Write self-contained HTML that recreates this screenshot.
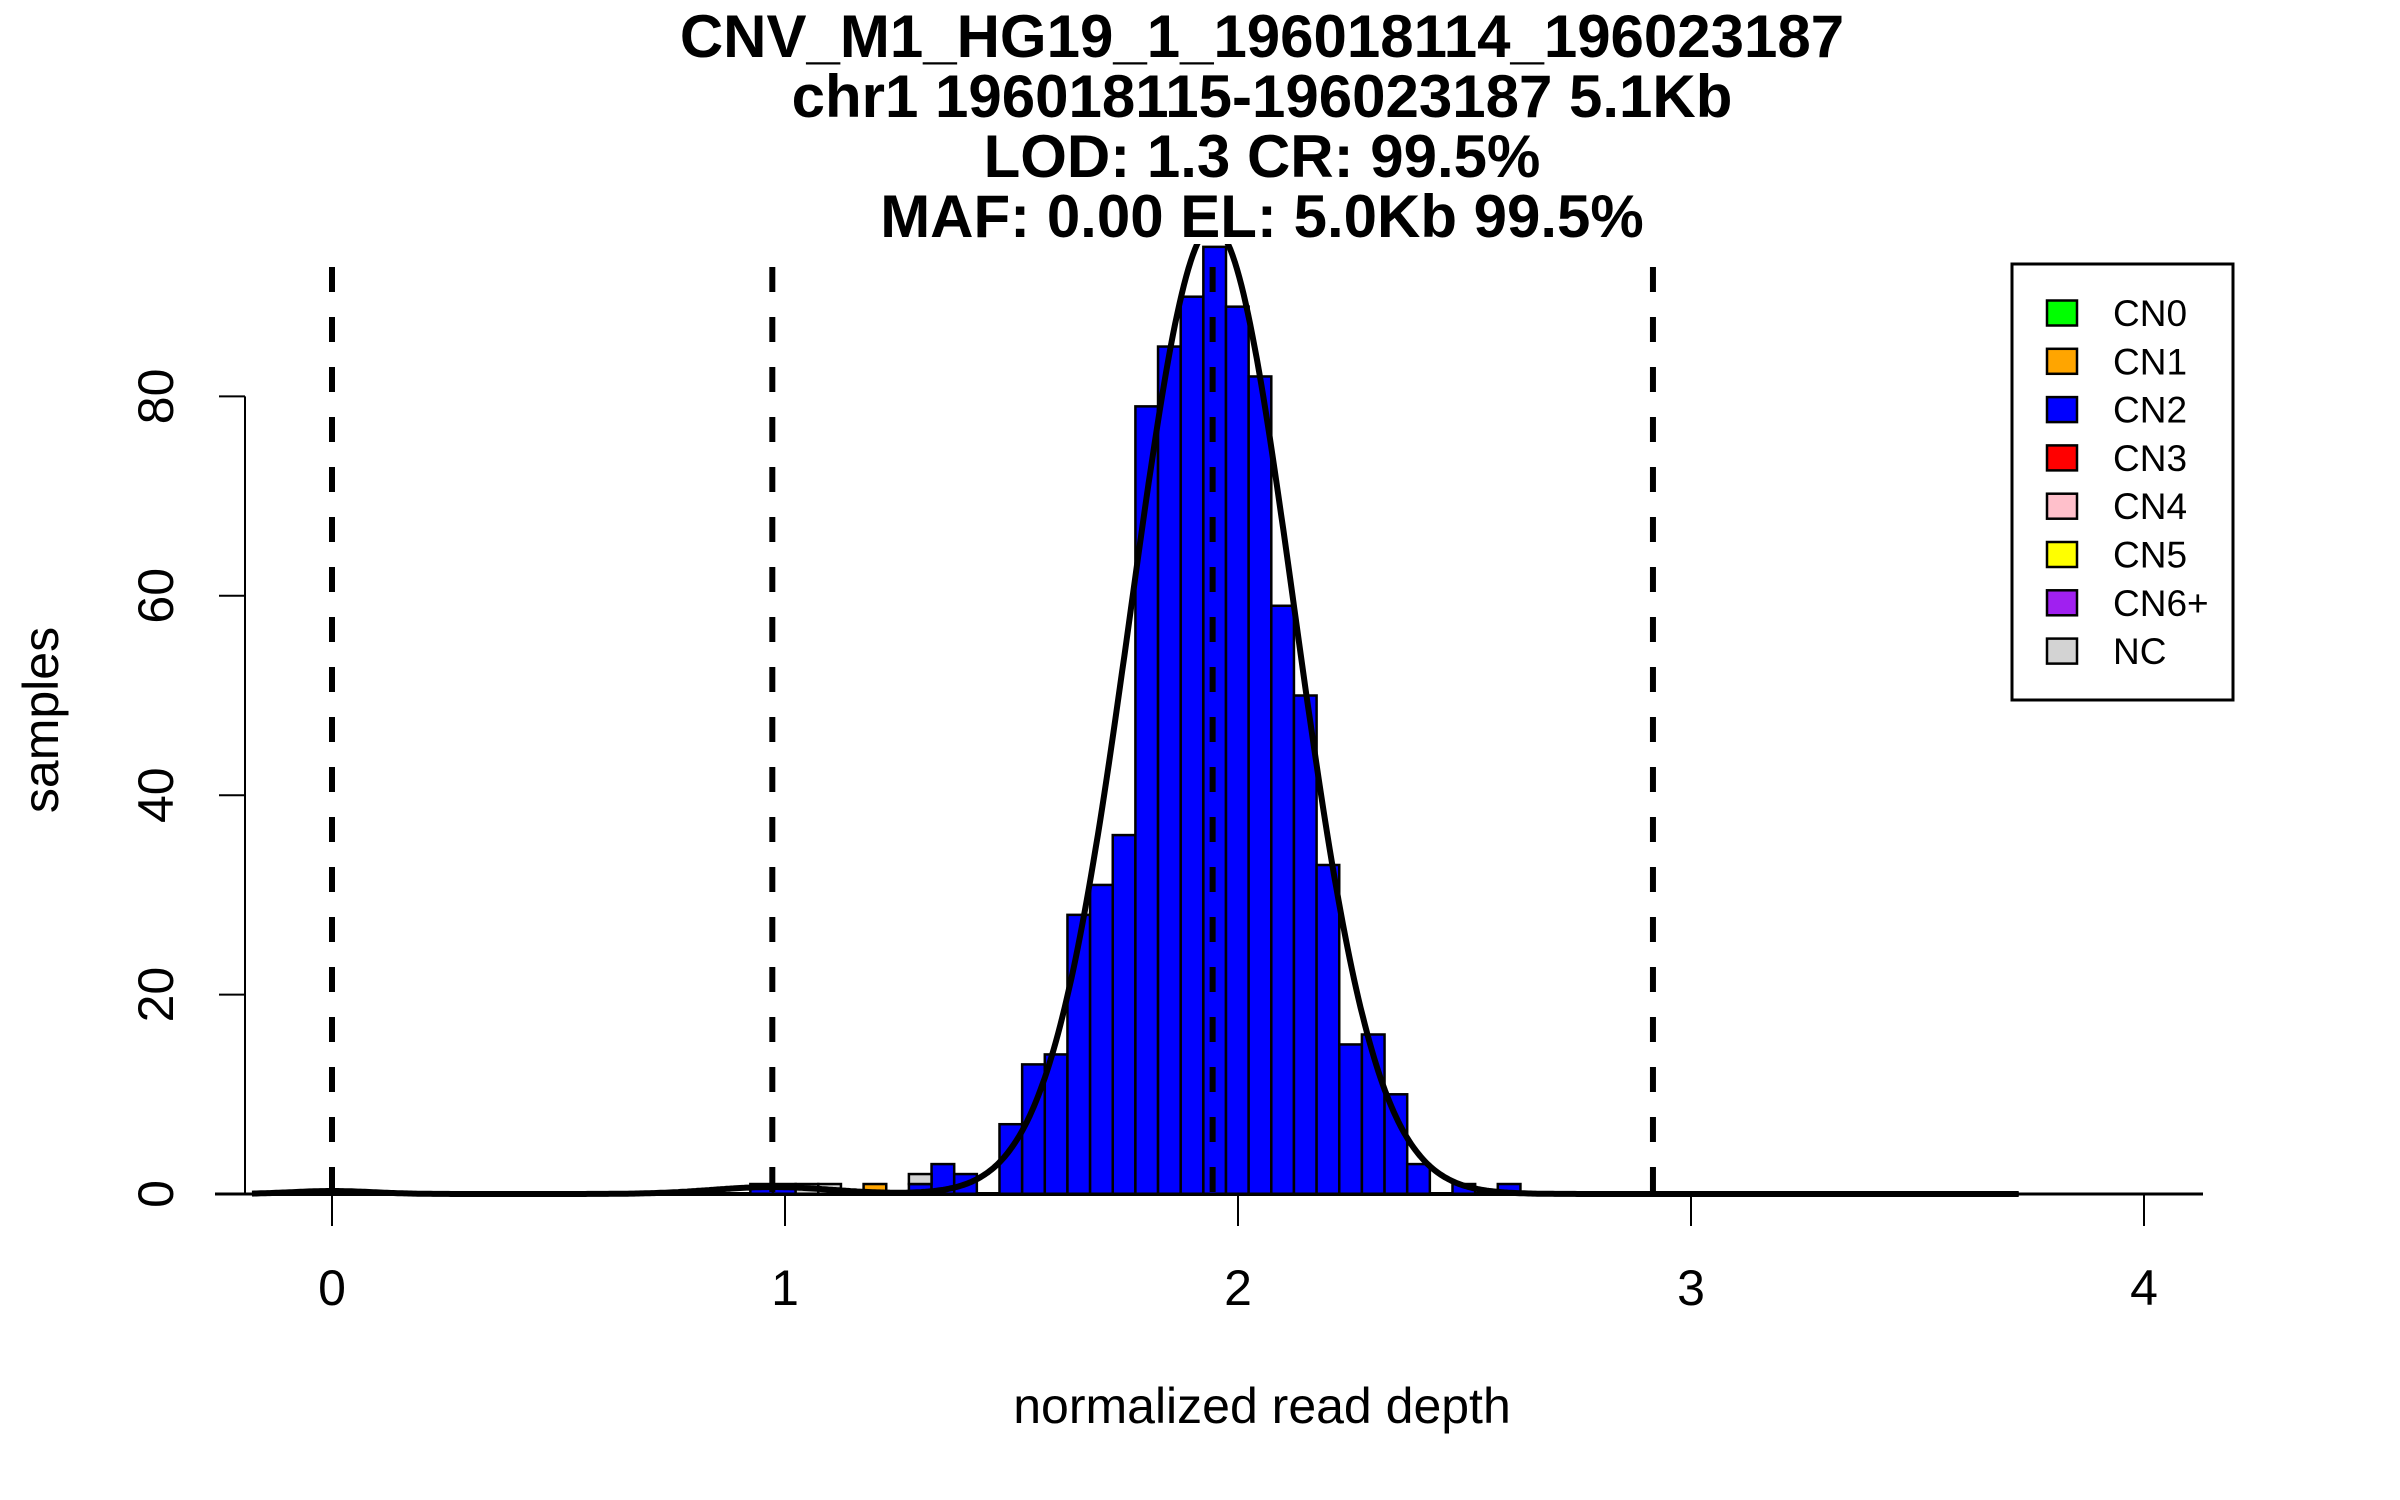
<!DOCTYPE html>
<html><head><meta charset="utf-8"><style>
html,body{margin:0;padding:0;background:#fff;}
svg{display:block;font-family:"Liberation Sans",sans-serif;}
</style></head><body>
<svg id="chart" width="2400" height="1500" viewBox="0 0 2400 1500" xmlns="http://www.w3.org/2000/svg">
<g font-weight="bold" font-size="60" text-anchor="middle">
<text x="1262" y="57">CNV_M1_HG19_1_196018114_196023187</text>
<text x="1262" y="117">chr1 196018115-196023187 5.1Kb</text>
<text x="1262" y="177">LOD: 1.3 CR: 99.5%</text>
<text x="1262" y="237">MAF: 0.00 EL: 5.0Kb 99.5%</text>
</g>
<defs><clipPath id="plotclip"><rect x="200" y="244" width="2050" height="1000"/></clipPath></defs>
<g id="bars"></g>
<g id="guides"></g>
<g id="curve" clip-path="url(#plotclip)"></g>
<g id="axes"></g>
<text x="1262" y="1423" font-size="50" text-anchor="middle">normalized read depth</text>
<text x="58" y="720" font-size="50" text-anchor="middle" transform="rotate(-90 58 720)">samples</text>
<g id="legend">
<rect x="2012" y="264" width="221" height="436" fill="#fff" stroke="#000" stroke-width="3"/>
</g>
</svg>
<script>
const binStart = -0.1765;
const binWidth = 0.05;
const binCount = 78;
const cn2Edges = [0.9235,0.9735,1.2735,1.3235,1.3735,1.4735,1.5235,1.5735,1.6235,1.6735,1.7235,1.7735,1.8235,1.8735,1.9235,1.9735,2.0235,2.0735,2.1235,2.1735,2.2235,2.2735,2.3235,2.3735,2.4735,2.5735];
const cn2Counts = [1,1,1,3,2,7,13,14,28,31,36,79,85,90,95,89,82,59,50,33,15,16,10,3,1,1];
const cn1Edges = [1.1735];
const cn1Counts = [1];
const ncEdges = [1.0235,1.0735,1.2735];
const ncCounts = [1,1,1];
const guideValues = [0,0.972,1.944,2.916];
const xTicks = [0,1,2,3,4];
const yTicks = [0,20,40,60,80];
const mixMeans = [0,0.972,1.944];
const mixSds = [0.09,0.13,0.18];
const mixPeaks = [0.3,0.7,97];
const legendLabels = ["CN0","CN1","CN2","CN3","CN4","CN5","CN6+","NC"];
const legendColors = ["#00ff00","#ffa500","#0000ff","#ff0000","#ffc0cb","#ffff00","#a020f0","#d3d3d3"];

const NS = "http://www.w3.org/2000/svg";
const X = v => 332 + (v) * 453;
const Y = c => 1194 - c * 9.97;
function mk(tag, attrs, parent){const e=document.createElementNS(NS,tag);for(const k in attrs)e.setAttribute(k,attrs[k]);parent.appendChild(e);return e;}

const bars = document.getElementById('bars');
const zl = mk('line',{x1:X(binStart),x2:X(binStart+binCount*binWidth),y1:Y(0),y2:Y(0),stroke:'#000','stroke-width':4},bars);


const stackBase = {};
function drawSeries(edges, counts, color, name){
  edges.forEach((e,i)=>{
    const base = stackBase[e] || 0;
    const r = mk('rect',{x:X(e),y:Y(base+counts[i]),width:X(e+binWidth)-X(e),height:Y(base)-Y(base+counts[i]),fill:color,stroke:'#000','stroke-width':2.5},bars);
    
    
    stackBase[e] = base+counts[i];
  });
}
drawSeries(cn2Edges,cn2Counts,'#0000ff','cn2');
drawSeries(cn1Edges,cn1Counts,'#ffa500','cn1');
drawSeries(ncEdges,ncCounts,'#d3d3d3','nc');

const guides = document.getElementById('guides');
guideValues.forEach(v=>{
  const l = mk('line',{x1:X(v),x2:X(v),y1:267,y2:Y(0),stroke:'#000','stroke-width':6,'stroke-dasharray':'25 25'},guides);
  
  
});

const curve = document.getElementById('curve');
let d='';
for(let i=0;i<=800;i++){
  const x = binStart + (binCount*binWidth)*i/800;
  let y=0;
  for(let k=0;k<mixMeans.length;k++){y+=mixPeaks[k]*Math.exp(-Math.pow(x-mixMeans[k],2)/(2*mixSds[k]*mixSds[k]));}
  d += (i?'L':'M')+X(x).toFixed(1)+','+Y(y).toFixed(1);
}
const p = mk('path',{d:d,fill:'none',stroke:'#000','stroke-width':6,'stroke-linejoin':'round'},curve);



const axes = document.getElementById('axes');
const xa = mk('line',{x1:215,x2:2203,y1:1194,y2:1194,stroke:'#000','stroke-width':3},axes);


xTicks.forEach(t=>{
  const tk = mk('line',{x1:X(t),x2:X(t),y1:1194,y2:1226,stroke:'#000','stroke-width':2},axes);
  
  
  const tx = mk('text',{x:X(t),y:1305,'font-size':50,'text-anchor':'middle'},axes);
  tx.textContent = t;
  
  
});
const ya = mk('line',{x1:245,x2:245,y1:Y(80),y2:Y(0),stroke:'#000','stroke-width':2},axes);


yTicks.forEach(t=>{
  const tk = mk('line',{x1:219,x2:245,y1:Y(t),y2:Y(t),stroke:'#000','stroke-width':2},axes);
  
  
  const tx = mk('text',{x:173,y:Y(t),'font-size':50,'text-anchor':'middle',transform:`rotate(-90 173 ${Y(t)})`},axes);
  tx.textContent = t;
  
  
});

const legend = document.getElementById('legend');
legendLabels.forEach((lab,i)=>{
  const cy = 313 + i*48.3;
  const g = mk('g',{},legend);
  
  
  const s = mk('rect',{x:2047,y:cy-12.5,width:30,height:25,fill:legendColors[i],stroke:'#000','stroke-width':2.5},g);
  
  
  const t = mk('text',{x:2113,y:cy+13,'font-size':37},g);
  t.textContent = lab;
  
  
});
</script>
</body></html>
